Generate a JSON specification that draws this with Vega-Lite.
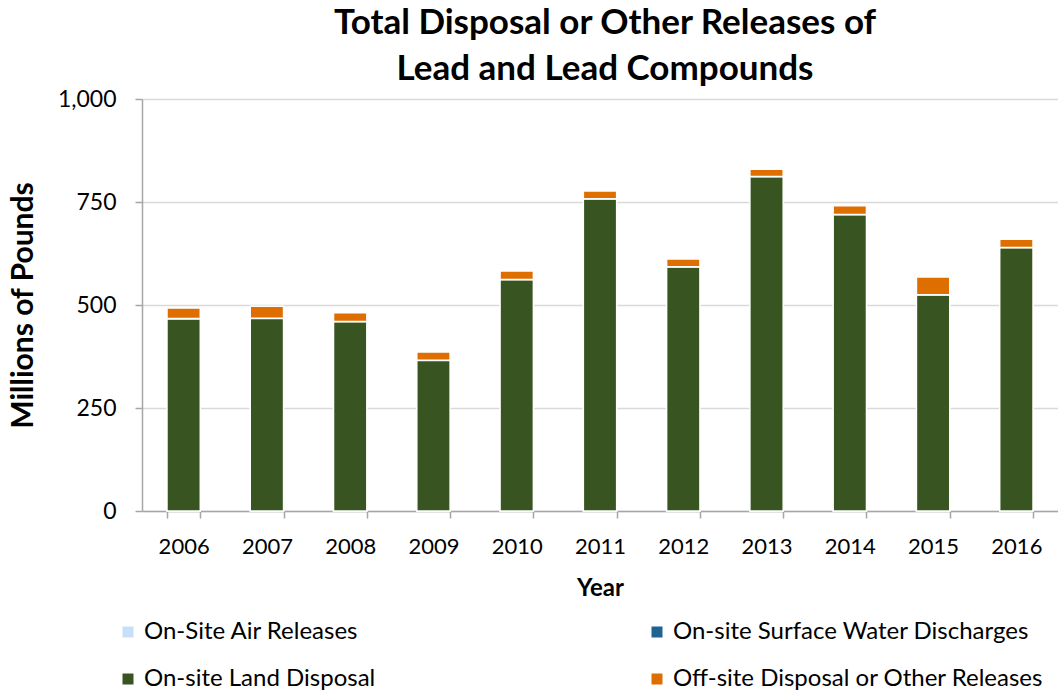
{
  "$schema": "https://vega.github.io/schema/vega-lite/v6.json",
  "width": 916,
  "height": 412,
  "autosize": {"type": "none"},
  "padding": {"left": 142, "top": 99, "right": 0, "bottom": 181},
  "background": "white",
  "title": {
    "text": ["Total Disposal or Other Releases of", "Lead and Lead Compounds"],
    "anchor": "middle",
    "frame": "group",
    "dx": 5,
    "font": "Lato",
    "fontSize": 35,
    "fontWeight": "bold",
    "color": "#000000",
    "lineHeight": 46,
    "offset": 1
  },
  "data": {
    "values": [
      {"Year": "2006", "Category": "On-Site Air Releases", "Pounds": 0.7},
      {"Year": "2006", "Category": "On-site Surface Water Discharges", "Pounds": 0.3},
      {"Year": "2006", "Category": "On-site Land Disposal", "Pounds": 466},
      {"Year": "2006", "Category": "Off-site Disposal or Other Releases", "Pounds": 26},
      {"Year": "2007", "Category": "On-Site Air Releases", "Pounds": 0.7},
      {"Year": "2007", "Category": "On-site Surface Water Discharges", "Pounds": 0.3},
      {"Year": "2007", "Category": "On-site Land Disposal", "Pounds": 467},
      {"Year": "2007", "Category": "Off-site Disposal or Other Releases", "Pounds": 29},
      {"Year": "2008", "Category": "On-Site Air Releases", "Pounds": 0.6},
      {"Year": "2008", "Category": "On-site Surface Water Discharges", "Pounds": 0.3},
      {"Year": "2008", "Category": "On-site Land Disposal", "Pounds": 459},
      {"Year": "2008", "Category": "Off-site Disposal or Other Releases", "Pounds": 21},
      {"Year": "2009", "Category": "On-Site Air Releases", "Pounds": 0.5},
      {"Year": "2009", "Category": "On-site Surface Water Discharges", "Pounds": 0.2},
      {"Year": "2009", "Category": "On-site Land Disposal", "Pounds": 365},
      {"Year": "2009", "Category": "Off-site Disposal or Other Releases", "Pounds": 20},
      {"Year": "2010", "Category": "On-Site Air Releases", "Pounds": 0.6},
      {"Year": "2010", "Category": "On-site Surface Water Discharges", "Pounds": 0.2},
      {"Year": "2010", "Category": "On-site Land Disposal", "Pounds": 561},
      {"Year": "2010", "Category": "Off-site Disposal or Other Releases", "Pounds": 21},
      {"Year": "2011", "Category": "On-Site Air Releases", "Pounds": 0.6},
      {"Year": "2011", "Category": "On-site Surface Water Discharges", "Pounds": 0.2},
      {"Year": "2011", "Category": "On-site Land Disposal", "Pounds": 757},
      {"Year": "2011", "Category": "Off-site Disposal or Other Releases", "Pounds": 19},
      {"Year": "2012", "Category": "On-Site Air Releases", "Pounds": 0.6},
      {"Year": "2012", "Category": "On-site Surface Water Discharges", "Pounds": 0.2},
      {"Year": "2012", "Category": "On-site Land Disposal", "Pounds": 592},
      {"Year": "2012", "Category": "Off-site Disposal or Other Releases", "Pounds": 19},
      {"Year": "2013", "Category": "On-Site Air Releases", "Pounds": 0.5},
      {"Year": "2013", "Category": "On-site Surface Water Discharges", "Pounds": 0.2},
      {"Year": "2013", "Category": "On-site Land Disposal", "Pounds": 811},
      {"Year": "2013", "Category": "Off-site Disposal or Other Releases", "Pounds": 18},
      {"Year": "2014", "Category": "On-Site Air Releases", "Pounds": 0.5},
      {"Year": "2014", "Category": "On-site Surface Water Discharges", "Pounds": 0.2},
      {"Year": "2014", "Category": "On-site Land Disposal", "Pounds": 719},
      {"Year": "2014", "Category": "Off-site Disposal or Other Releases", "Pounds": 21},
      {"Year": "2015", "Category": "On-Site Air Releases", "Pounds": 0.5},
      {"Year": "2015", "Category": "On-site Surface Water Discharges", "Pounds": 0.2},
      {"Year": "2015", "Category": "On-site Land Disposal", "Pounds": 524},
      {"Year": "2015", "Category": "Off-site Disposal or Other Releases", "Pounds": 43},
      {"Year": "2016", "Category": "On-Site Air Releases", "Pounds": 0.5},
      {"Year": "2016", "Category": "On-site Surface Water Discharges", "Pounds": 0.2},
      {"Year": "2016", "Category": "On-site Land Disposal", "Pounds": 639},
      {"Year": "2016", "Category": "Off-site Disposal or Other Releases", "Pounds": 20}
    ]
  },
  "mark": {"type": "bar", "stroke": "white", "strokeWidth": 1.5},
  "encoding": {
    "x": {
      "field": "Year",
      "type": "ordinal",
      "scale": {"paddingInner": 0.6, "paddingOuter": 0.3},
      "axis": {
        "title": "Year",
        "labelAngle": 0,
        "tickBand": "extent",
        "labelFont": "Lato",
        "labelFontSize": 22,
        "labelColor": "#000000",
        "labelPadding": 18,
        "titleFont": "Lato",
        "titleFontSize": 24,
        "titleFontWeight": "bold",
        "titleColor": "#000000",
        "titlePadding": 19,
        "domainColor": "#A6A6A6",
        "domainWidth": 1.5,
        "tickColor": "#A6A6A6",
        "tickWidth": 1.5,
        "tickSize": 7,
        "grid": false
      }
    },
    "y": {
      "field": "Pounds",
      "type": "quantitative",
      "stack": "zero",
      "scale": {"domain": [0, 1000]},
      "axis": {
        "title": "Millions of Pounds",
        "values": [0, 250, 500, 750, 1000],
        "format": ",d",
        "labelFont": "Lato",
        "labelFontSize": 23,
        "labelColor": "#000000",
        "labelPadding": 19,
        "titleFont": "Lato",
        "titleFontSize": 30,
        "titleFontWeight": "bold",
        "titleColor": "#000000",
        "titlePadding": 19,
        "domainColor": "#A6A6A6",
        "domainWidth": 1.5,
        "tickColor": "#A6A6A6",
        "tickWidth": 1.5,
        "tickSize": 7,
        "grid": true,
        "gridColor": "#D9D9D9",
        "gridWidth": 1.5
      }
    },
    "color": {
      "field": "Category",
      "type": "nominal",
      "scale": {
        "domain": ["On-Site Air Releases", "On-site Surface Water Discharges", "On-site Land Disposal", "Off-site Disposal or Other Releases"],
        "range": ["#C5E0F8", "#1F6391", "#375421", "#DF6E00"]
      },
      "legend": {
        "title": null,
        "orient": "none",
        "direction": "horizontal",
        "legendX": -26,
        "legendY": 521,
        "columns": 2,
        "columnPadding": 269,
        "rowPadding": 23,
        "symbolType": "square",
        "symbolSize": 121,
        "symbolStrokeWidth": 0,
        "labelFont": "Lato",
        "labelFontSize": 24,
        "labelColor": "#000000",
        "labelOffset": 4,
        "labelLimit": 500
      }
    },
    "order": {"field": "Category", "sort": "descending"}
  },
  "config": {
    "view": {"stroke": null}
  }
}
